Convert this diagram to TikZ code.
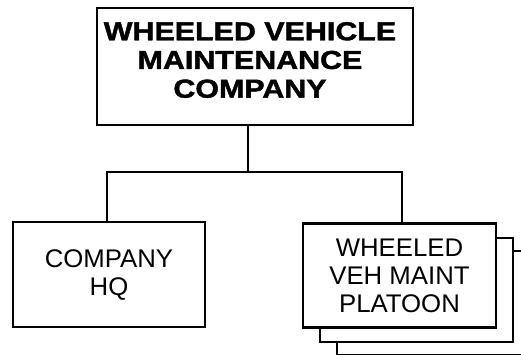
\documentclass[tikz,border=0pt]{standalone}
\usepackage{fontspec}
\setmainfont{Liberation Sans}[FakeStretch=1.01]
\newfontfamily\widebold{Liberation Sans}[FakeStretch=1.17,BoldFeatures={FakeBold=1.6}]
\begin{document}
\begin{tikzpicture}[x=1pt,y=-1pt,
  box/.style={draw=black,line width=2.5pt,fill=white,inner sep=0pt,align=center},
  conn/.style={draw=black,line width=1.8pt},
  toptext/.style={inner sep=0pt,align=center,font=\widebold\bfseries\fontsize{26}{28.7}\selectfont},
  subtext/.style={font=\fontsize{25.5}{28}\selectfont}]
\useasboundingbox (0,0) rectangle (521,354);
\clip (0,0) rectangle (521,354);
% stacked platoon boxes (back to front)
\node[box,minimum width=193pt,minimum height=104pt] (plat3) at (433.5,303) {};
\node[box,minimum width=193pt,minimum height=104pt] (plat2) at (416.5,290) {};
\node[box,subtext,minimum width=193pt,minimum height=104pt] (plat) at (399.5,275.5) {WHEELED\\VEH MAINT\\PLATOON};
\node[box,subtext,minimum width=192pt,minimum height=105pt] (hq) at (109,274.5) {COMPANY\\HQ};
\node[box,line width=2.7pt,minimum width=316pt,minimum height=117pt] (top) at (255,66.5) {};
\node[toptext] (toplbl) at (250,60) {WHEELED VEHICLE\\MAINTENANCE\\COMPANY};
% connectors
\coordinate (j) at (248,172);
\coordinate (hqj) at (107,172);
\coordinate (plj) at (402,172);
\draw[conn] (top.south -| j) -- (j);
\draw[conn] (hq.north -| hqj) -- (hqj) -- (plj) -- (plat.north -| plj);
\end{tikzpicture}
\end{document}
